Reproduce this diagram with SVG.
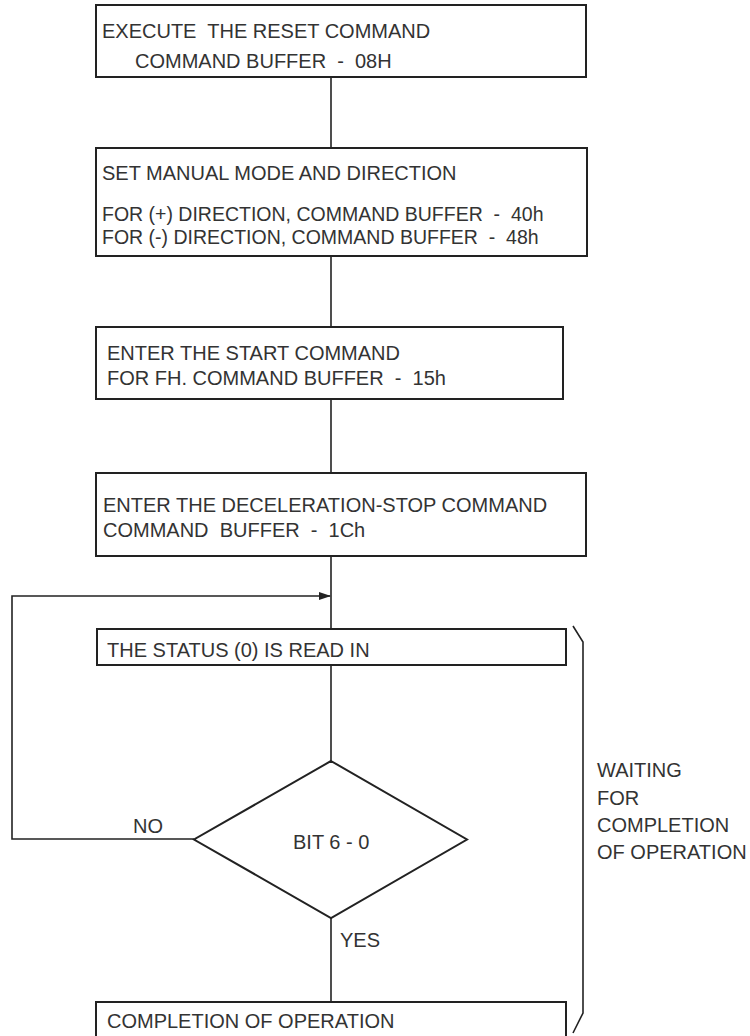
<svg xmlns="http://www.w3.org/2000/svg" width="750" height="1036" viewBox="0 0 750 1036">
<style>
  .box { fill: #fff; stroke: #222; stroke-width: 2; }
  .ln { fill: none; stroke: #222; stroke-width: 1.6; }
  text { font-family: "Liberation Sans", Arial, sans-serif; font-size: 20px; fill: #333; white-space: pre; }
  .tight { font-size: 19.5px; }
</style>
<defs>
  <marker id="arr" markerWidth="12" markerHeight="8" refX="11" refY="4" orient="auto" markerUnits="userSpaceOnUse">
    <path d="M0,0 L12,4 L0,8 Z" fill="#222"/>
  </marker>
</defs>
<rect width="750" height="1036" fill="#fff"/>
<g id="connectors">
  <line class="ln" x1="331" y1="77" x2="331" y2="148"/>
  <line class="ln" x1="331" y1="256" x2="331" y2="327"/>
  <line class="ln" x1="331" y1="399" x2="331" y2="473"/>
  <line class="ln" x1="331" y1="556" x2="331" y2="629"/>
  <line class="ln" x1="331" y1="665" x2="331" y2="761"/>
  <line class="ln" x1="331" y1="918" x2="331" y2="1002"/>
  <polyline class="ln" points="194,839 12,839 12,596 330,596" marker-end="url(#arr)"/>
  <text x="133" y="833">NO</text>
  <text x="340" y="947">YES</text>
</g>
<g id="n1">
  <rect class="box" x="96" y="5" width="490" height="72"/>
  <text x="102" y="38">EXECUTE  THE RESET COMMAND</text>
  <text x="135" y="68">COMMAND BUFFER  -  08H</text>
</g>
<g id="n2">
  <rect class="box" x="96" y="148" width="491" height="108"/>
  <text x="102" y="180">SET MANUAL MODE AND DIRECTION</text>
  <text class="tight" x="102" y="221">FOR (+) DIRECTION, COMMAND BUFFER  -  40h</text>
  <text class="tight" x="102" y="244">FOR (-) DIRECTION, COMMAND BUFFER  -  48h</text>
</g>
<g id="n3">
  <rect class="box" x="96" y="327" width="467" height="72"/>
  <text x="107" y="360">ENTER THE START COMMAND</text>
  <text x="107" y="385">FOR FH. COMMAND BUFFER  -  15h</text>
</g>
<g id="n4">
  <rect class="box" x="96" y="473" width="490" height="83"/>
  <text x="103" y="512">ENTER THE DECELERATION-STOP COMMAND</text>
  <text x="103" y="537">COMMAND  BUFFER  -  1Ch</text>
</g>
<g id="n5">
  <rect class="box" x="97" y="629" width="469" height="36"/>
  <text x="107" y="657">THE STATUS (0) IS READ IN</text>
</g>
<g id="n6">
  <polygon class="box" points="331,761 467,839.5 331,918 194,839.5"/>
  <text x="293" y="849">BIT 6 - 0</text>
</g>
<g id="n7">
  <rect class="box" x="96" y="1002" width="470" height="40"/>
  <text x="107" y="1028">COMPLETION OF OPERATION</text>
</g>
<g id="bracket">
  <polyline class="ln" points="573,626 583,642 583,1013 573,1033"/>
  <text x="597" y="777">WAITING</text>
  <text x="597" y="805">FOR</text>
  <text x="597" y="832">COMPLETION</text>
  <text x="597" y="859">OF OPERATION</text>
</g>
</svg>
